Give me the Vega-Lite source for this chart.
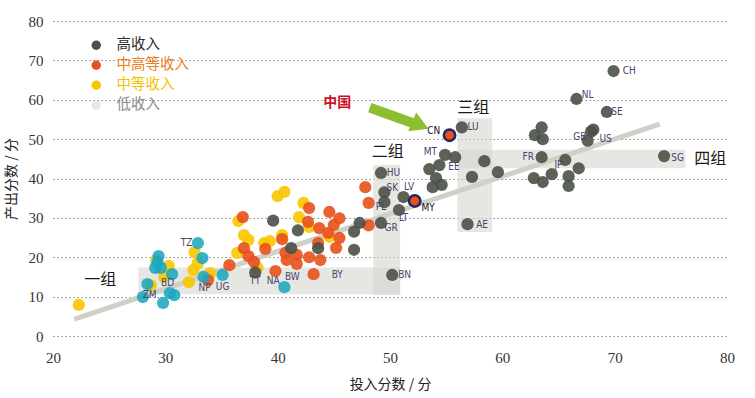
{
  "$schema": "https://vega.github.io/schema/vega-lite/v6.json",
  "width": 674,
  "height": 315,
  "autosize": "none",
  "padding": {"left": 53, "top": 21, "right": 28, "bottom": 62},
  "background": "white",
  "config": {
    "view": {"stroke": null},
    "axis": {"labelFont": "Liberation Serif", "labelFontSize": 15, "labelColor": "#333", "titleFont": "Noto Sans CJK SC", "titleFontSize": 14, "titleFontWeight": "normal", "titleColor": "#222"}
  },
  "datasets": {
    "bands": [
      {"band": "一组", "x": 27.6, "x2": 50.9, "y": 10.6, "y2": 17.4},
      {"band": "二组", "x": 48.5, "x2": 50.9, "y": 10.4, "y2": 43.4},
      {"band": "三组", "x": 56.0, "x2": 59.1, "y": 26.4, "y2": 55.3},
      {"band": "四组", "x": 56.0, "x2": 76.3, "y": 42.6, "y2": 47.3}
    ],
    "trend": [
      {"x": 21.9, "y": 4.3},
      {"x": 74.0, "y": 53.8}
    ],
    "points": [
      {"group": "中等收入", "code": "", "x": 22.3, "y": 7.9},
      {"group": "中等收入", "code": "", "x": 28.7, "y": 12.9},
      {"group": "中等收入", "code": "", "x": 29.2, "y": 19.3},
      {"group": "中等收入", "code": "", "x": 30.3, "y": 17.8},
      {"group": "中等收入", "code": "", "x": 29.9, "y": 15.0},
      {"group": "中等收入", "code": "", "x": 32.1, "y": 13.7},
      {"group": "中等收入", "code": "", "x": 32.6, "y": 21.3},
      {"group": "中等收入", "code": "", "x": 32.9, "y": 18.5},
      {"group": "中等收入", "code": "", "x": 32.5, "y": 16.8},
      {"group": "中等收入", "code": "", "x": 34.0, "y": 16.0},
      {"group": "中等收入", "code": "", "x": 36.5, "y": 29.2},
      {"group": "中等收入", "code": "", "x": 37.0, "y": 25.6},
      {"group": "中等收入", "code": "", "x": 37.4, "y": 24.4},
      {"group": "中等收入", "code": "", "x": 36.4, "y": 21.1},
      {"group": "中等收入", "code": "", "x": 38.2, "y": 17.3},
      {"group": "中等收入", "code": "", "x": 38.8, "y": 23.6},
      {"group": "中等收入", "code": "", "x": 39.3, "y": 24.1},
      {"group": "中等收入", "code": "", "x": 40.4, "y": 25.6},
      {"group": "中等收入", "code": "", "x": 40.0, "y": 35.5},
      {"group": "中等收入", "code": "", "x": 40.6, "y": 36.6},
      {"group": "中等收入", "code": "", "x": 42.3, "y": 33.8},
      {"group": "中等收入", "code": "", "x": 41.9, "y": 30.2},
      {"group": "中等收入", "code": "", "x": 42.8, "y": 27.7},
      {"group": "中等收入", "code": "", "x": 44.6, "y": 25.2},
      {"group": "低收入", "code": "TZ", "x": 32.9, "y": 23.6},
      {"group": "低收入", "code": "", "x": 33.3, "y": 19.8},
      {"group": "低收入", "code": "", "x": 33.4, "y": 15.0},
      {"group": "低收入", "code": "", "x": 29.4, "y": 20.3},
      {"group": "低收入", "code": "", "x": 29.1, "y": 17.3},
      {"group": "低收入", "code": "", "x": 29.6, "y": 17.3},
      {"group": "低收入", "code": "", "x": 29.3, "y": 18.8},
      {"group": "低收入", "code": "", "x": 30.6, "y": 15.7},
      {"group": "低收入", "code": "", "x": 28.4, "y": 13.2},
      {"group": "低收入", "code": "", "x": 28.0, "y": 9.9},
      {"group": "低收入", "code": "", "x": 29.8, "y": 8.4},
      {"group": "低收入", "code": "", "x": 30.4, "y": 10.9},
      {"group": "低收入", "code": "", "x": 30.8, "y": 10.4},
      {"group": "低收入", "code": "UG", "x": 35.1, "y": 15.5},
      {"group": "低收入", "code": "", "x": 40.6, "y": 12.4},
      {"group": "中高等收入", "code": "", "x": 47.8, "y": 37.8},
      {"group": "中高等收入", "code": "", "x": 48.1, "y": 33.8},
      {"group": "中高等收入", "code": "", "x": 48.1, "y": 28.1},
      {"group": "中高等收入", "code": "", "x": 42.8, "y": 32.5},
      {"group": "中高等收入", "code": "", "x": 42.7, "y": 29.0},
      {"group": "中高等收入", "code": "", "x": 43.7, "y": 27.4},
      {"group": "中高等收入", "code": "", "x": 44.6, "y": 31.5},
      {"group": "中高等收入", "code": "", "x": 45.5, "y": 29.9},
      {"group": "中高等收入", "code": "", "x": 45.0, "y": 28.2},
      {"group": "中高等收入", "code": "", "x": 44.5, "y": 26.2},
      {"group": "中高等收入", "code": "", "x": 45.5, "y": 24.9},
      {"group": "中高等收入", "code": "", "x": 45.2, "y": 22.4},
      {"group": "中高等收入", "code": "", "x": 43.6, "y": 23.6},
      {"group": "中高等收入", "code": "", "x": 43.8, "y": 19.3},
      {"group": "中高等收入", "code": "", "x": 42.8, "y": 20.0},
      {"group": "中高等收入", "code": "BY", "x": 43.2, "y": 15.7},
      {"group": "中高等收入", "code": "", "x": 41.7, "y": 20.6},
      {"group": "中高等收入", "code": "", "x": 41.7, "y": 18.3},
      {"group": "中高等收入", "code": "", "x": 40.7, "y": 21.1},
      {"group": "中高等收入", "code": "", "x": 40.8, "y": 19.3},
      {"group": "中高等收入", "code": "", "x": 40.4, "y": 24.6},
      {"group": "中高等收入", "code": "NA", "x": 39.8, "y": 16.5},
      {"group": "中高等收入", "code": "", "x": 38.9, "y": 22.1},
      {"group": "中高等收入", "code": "", "x": 36.9, "y": 30.2},
      {"group": "中高等收入", "code": "", "x": 37.0, "y": 22.3},
      {"group": "中高等收入", "code": "", "x": 37.4, "y": 20.3},
      {"group": "中高等收入", "code": "", "x": 37.9, "y": 18.8},
      {"group": "中高等收入", "code": "", "x": 35.7, "y": 18.0},
      {"group": "中高等收入", "code": "NP", "x": 33.8, "y": 14.2},
      {"group": "高收入", "code": "CH", "x": 69.9, "y": 67.3},
      {"group": "高收入", "code": "NL", "x": 66.6, "y": 60.2},
      {"group": "高收入", "code": "SE", "x": 69.3, "y": 56.9},
      {"group": "高收入", "code": "US", "x": 68.1, "y": 52.4},
      {"group": "高收入", "code": "", "x": 67.9, "y": 51.9},
      {"group": "高收入", "code": "GB", "x": 67.6, "y": 49.6},
      {"group": "高收入", "code": "", "x": 63.5, "y": 53.0},
      {"group": "高收入", "code": "", "x": 62.9, "y": 51.0},
      {"group": "高收入", "code": "", "x": 63.6, "y": 50.0},
      {"group": "高收入", "code": "FR", "x": 63.5, "y": 45.4},
      {"group": "高收入", "code": "JP", "x": 65.6, "y": 44.7},
      {"group": "高收入", "code": "", "x": 66.8, "y": 42.6},
      {"group": "高收入", "code": "", "x": 64.4, "y": 41.1},
      {"group": "高收入", "code": "", "x": 62.8, "y": 40.1},
      {"group": "高收入", "code": "", "x": 63.6, "y": 39.1},
      {"group": "高收入", "code": "", "x": 65.9, "y": 40.6},
      {"group": "高收入", "code": "", "x": 65.9, "y": 38.1},
      {"group": "高收入", "code": "SG", "x": 74.4, "y": 45.7},
      {"group": "高收入", "code": "LU", "x": 56.4, "y": 53.0},
      {"group": "高收入", "code": "MT", "x": 54.9, "y": 46.0},
      {"group": "高收入", "code": "", "x": 55.8, "y": 45.4},
      {"group": "高收入", "code": "", "x": 58.4, "y": 44.4},
      {"group": "高收入", "code": "", "x": 59.6, "y": 41.6},
      {"group": "高收入", "code": "", "x": 57.3, "y": 40.4},
      {"group": "高收入", "code": "EE", "x": 54.4, "y": 43.4},
      {"group": "高收入", "code": "", "x": 53.5, "y": 42.4},
      {"group": "高收入", "code": "", "x": 54.1, "y": 40.1},
      {"group": "高收入", "code": "", "x": 53.8, "y": 37.8},
      {"group": "高收入", "code": "", "x": 54.6, "y": 38.4},
      {"group": "高收入", "code": "HU", "x": 49.2, "y": 41.4},
      {"group": "高收入", "code": "SK", "x": 49.5, "y": 36.5},
      {"group": "高收入", "code": "PL", "x": 49.5, "y": 34.0},
      {"group": "高收入", "code": "LV", "x": 51.2, "y": 35.3},
      {"group": "高收入", "code": "LT", "x": 50.8, "y": 32.0},
      {"group": "高收入", "code": "GR", "x": 49.2, "y": 28.7},
      {"group": "高收入", "code": "AE", "x": 56.9, "y": 28.4},
      {"group": "高收入", "code": "BN", "x": 50.2, "y": 15.5},
      {"group": "高收入", "code": "", "x": 47.3, "y": 28.7},
      {"group": "高收入", "code": "", "x": 46.8, "y": 26.5},
      {"group": "高收入", "code": "", "x": 46.8, "y": 21.9},
      {"group": "高收入", "code": "", "x": 41.8, "y": 26.8},
      {"group": "高收入", "code": "", "x": 39.6, "y": 29.3},
      {"group": "高收入", "code": "", "x": 41.2, "y": 22.3},
      {"group": "高收入", "code": "", "x": 43.6, "y": 22.3},
      {"group": "高收入", "code": "TT", "x": 38.0, "y": 16.1},
      {"group": "中高等收入", "code": "CN", "x": 55.3, "y": 51.0},
      {"group": "中高等收入", "code": "MY", "x": 52.2, "y": 34.3}
    ],
    "labels": [
      {"code": "CH", "x": 71.3, "y": 67.3},
      {"code": "NL", "x": 67.6, "y": 61.2},
      {"code": "SE", "x": 70.2, "y": 56.9},
      {"code": "GB", "x": 66.9, "y": 50.5},
      {"code": "US", "x": 69.2, "y": 50.0},
      {"code": "FR", "x": 62.3, "y": 45.4},
      {"code": "JP", "x": 65.0, "y": 43.4},
      {"code": "SG", "x": 75.6, "y": 45.2},
      {"code": "LU", "x": 57.4, "y": 53.0},
      {"code": "CN", "x": 53.9, "y": 52.0},
      {"code": "MT", "x": 53.6, "y": 46.7},
      {"code": "EE", "x": 55.7, "y": 42.9},
      {"code": "HU", "x": 50.3, "y": 41.4},
      {"code": "SK", "x": 50.2, "y": 37.6},
      {"code": "LV", "x": 51.7, "y": 37.8},
      {"code": "PL", "x": 49.2, "y": 32.7},
      {"code": "MY", "x": 53.4, "y": 32.5},
      {"code": "LT", "x": 51.2, "y": 29.9},
      {"code": "GR", "x": 50.1, "y": 27.4},
      {"code": "AE", "x": 58.2, "y": 28.2},
      {"code": "BN", "x": 51.3, "y": 15.5},
      {"code": "BY", "x": 45.3, "y": 15.5},
      {"code": "BW", "x": 41.3, "y": 15.0},
      {"code": "NA", "x": 39.6, "y": 14.0},
      {"code": "TT", "x": 38.0, "y": 14.0},
      {"code": "UG", "x": 35.1, "y": 12.4},
      {"code": "NP", "x": 33.5, "y": 12.2},
      {"code": "BD", "x": 30.2, "y": 13.5},
      {"code": "ZM", "x": 28.6, "y": 10.4},
      {"code": "TZ", "x": 31.9, "y": 23.6}
    ],
    "groups": [
      {"text": "一组", "x": 24.2, "y": 14.2},
      {"text": "二组", "x": 49.8, "y": 46.7},
      {"text": "三组", "x": 57.4, "y": 57.9},
      {"text": "四组", "x": 78.5, "y": 44.9}
    ],
    "arrow": [
      {"x": 48.2, "y": 58.0, "x2": 52.2, "y2": 53.9}
    ],
    "arrowhead": [
      {"x": 52.7, "y": 53.5}
    ],
    "china": [
      {"text": "中国", "x": 45.3, "y": 59.1}
    ]
  },
  "encoding": {
    "x": {"field": "x", "type": "quantitative", "scale": {"domain": [20, 80], "nice": false, "zero": false},
      "axis": {"title": "投入分数 / 分", "values": [20, 30, 40, 50, 60, 70, 80], "grid": false, "domain": false, "ticks": false, "labelPadding": 14, "titlePadding": 12, "labelFlush": false}},
    "y": {"field": "y", "type": "quantitative", "scale": {"domain": [0, 80], "nice": false, "zero": false},
      "axis": {"title": "产出分数 / 分", "values": [0, 10, 20, 30, 40, 50, 60, 70, 80], "grid": true, "gridColor": "#8a8a8a", "gridDash": [1.5, 2.5], "gridWidth": 1, "domain": false, "ticks": false, "labelPadding": 10, "titlePadding": 10}}
  },
  "layer": [
    {
      "data": {"name": "bands"},
      "mark": {"type": "rect", "fill": "#d6d7d0", "opacity": 0.6},
      "encoding": {"x2": {"field": "x2"}, "y2": {"field": "y2"}}
    },
    {
      "data": {"name": "trend"},
      "mark": {"type": "line", "color": "#cfd0c6", "strokeWidth": 5},
      "encoding": {}
    },
    {
      "data": {"name": "points"},
      "transform": [{"filter": "datum.group !== '低收入'"}],
      "mark": {"type": "circle", "size": 150, "opacity": 0.9},
      "encoding": {
        "color": {"field": "group", "type": "nominal",
          "scale": {"domain": ["高收入", "中高等收入", "中等收入", "低收入"], "range": ["#4b5147", "#e8501c", "#f7c600", "#e9e9e3"]},
          "legend": {"title": null, "orient": "none", "legendX": 36, "legendY": 17, "symbolType": "circle", "symbolSize": 90, "symbolOpacity": 1,
            "labelFont": "Noto Sans CJK SC", "labelFontSize": 14.5, "labelOffset": 13, "rowPadding": 5, "padding": 0,
            "encode": {
              "labels": {"update": {"fill": {"signal": "datum.value === '高收入' ? '#2b2b2b' : datum.value === '中高等收入' ? '#ef7d1a' : datum.value === '中等收入' ? '#f3c200' : '#8a8a8a'"}}}
            }}
        }
      }
    },
    {
      "data": {"name": "points"},
      "transform": [{"filter": "datum.group === '低收入'"}],
      "mark": {"type": "circle", "size": 150, "opacity": 0.88, "color": "#1ba7bf"},
      "encoding": {}
    },
    {
      "data": {"name": "points"},
      "transform": [{"filter": {"field": "code", "oneOf": ["CN", "MY"]}}],
      "mark": {"type": "point", "shape": "circle", "size": 130, "filled": true, "fill": "#e8501c", "stroke": "#1f2466", "strokeWidth": 2.5, "opacity": 1},
      "encoding": {}
    },
    {
      "data": {"name": "labels"},
      "mark": {"type": "text", "font": "Liberation Sans Narrow, DejaVu Sans Condensed, sans-serif", "fontSize": 10, "align": "center", "baseline": "middle"},
      "encoding": {
        "text": {"field": "code"},
        "color": {"condition": {"test": "datum.code === 'CN' || datum.code === 'MY'", "value": "#101030"}, "value": "#45456a"},
        "fontWeight": {"condition": {"test": "datum.code === 'CN' || datum.code === 'MY'", "value": "bold"}, "value": "normal"}
      }
    },
    {
      "data": {"name": "groups"},
      "mark": {"type": "text", "font": "Noto Sans CJK SC", "fontSize": 16, "color": "#1a1a1a", "align": "center", "baseline": "middle"},
      "encoding": {"text": {"field": "text"}}
    },
    {
      "data": {"name": "arrow"},
      "mark": {"type": "rule", "color": "#8cbf2f", "strokeWidth": 10},
      "encoding": {"x2": {"field": "x2"}, "y2": {"field": "y2"}}
    },
    {
      "data": {"name": "arrowhead"},
      "mark": {"type": "point", "shape": "triangle-right", "size": 420, "filled": true, "color": "#8cbf2f", "opacity": 1, "angle": 23},
      "encoding": {}
    },
    {
      "data": {"name": "china"},
      "mark": {"type": "text", "font": "Noto Sans CJK SC", "fontSize": 14, "fontWeight": "bold", "color": "#d0102a", "align": "center", "baseline": "middle"},
      "encoding": {"text": {"field": "text"}}
    }
  ]
}
